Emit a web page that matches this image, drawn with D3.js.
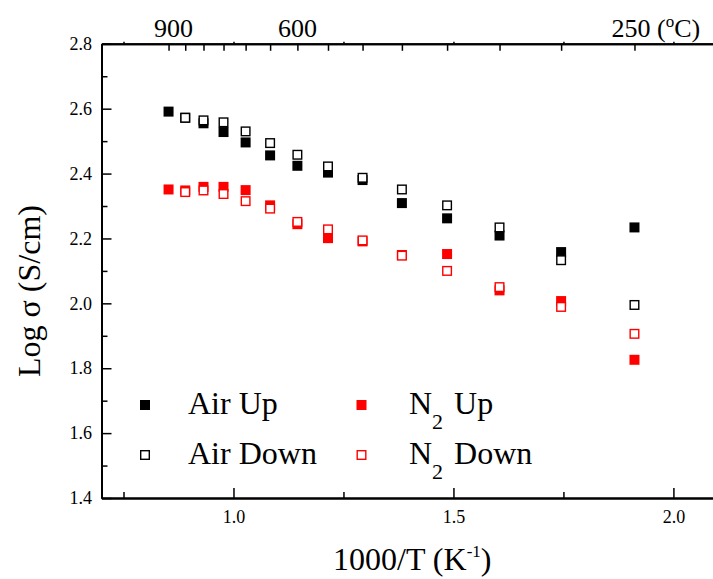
<!DOCTYPE html>
<html>
<head>
<meta charset="utf-8">
<script src="https://cdn.jsdelivr.net/npm/d3@7"></script>
<style>
  html, body { margin: 0; padding: 0; background: #fff; }
  svg { display: block; }
  svg text { font-family: 'Liberation Serif', 'Times New Roman', Times, 'DejaVu Serif', serif !important; }
</style>
</head>
<body>
<svg id="chart" width="713" height="579"></svg>
<script>
// Measurement temperatures (°C), one per point along the heating/cooling runs
const temperaturesC = [900, 850, 800, 750, 700, 650, 600, 550, 500, 450, 400, 350, 300, 250];

// Log conductivity, log σ (S/cm), for each run
const airUp    = [2.591, 2.572, 2.555, 2.528, 2.496, 2.456, 2.424, 2.403, 2.380, 2.309, 2.262, 2.209, 2.158, 2.234];
const airDown  = [null,  2.572, 2.564, 2.558, 2.530, 2.494, 2.458, 2.422, 2.387, 2.351, 2.302, 2.234, 2.133, 1.995];
const n2Up     = [2.351, 2.348, 2.359, 2.359, 2.349, 2.302, 2.244, 2.201, 2.191, 2.149, 2.152, 2.040, 2.007, 1.826];
const n2Down   = [null,  2.343, 2.348, 2.337, 2.315, 2.292, 2.251, 2.228, 2.194, 2.147, 2.100, 2.050, 1.989, 1.906];

// Axis ticks
const yMajorTicks = [1.4, 1.6, 1.8, 2.0, 2.2, 2.4, 2.6, 2.8];
const yMinorTicks = [1.5, 1.7, 1.9, 2.1, 2.3, 2.5, 2.7];
const xMajorTicks = [1.0, 1.5, 2.0];
const xMinorTicks = [0.75, 1.25, 1.75];
const topLabelTemps = [900, 600];
const topUnitTemp = 250;

const FONT = "'Liberation Serif', 'Times New Roman', Times, 'DejaVu Serif', serif";
const toInvT = t => 1000 / (t + 273.15);

const svg = d3.select("#chart");

const x = d3.scaleLinear().domain([0.7, 2.1]).range([101.5, 717.4]);
const y = d3.scaleLinear().domain([1.4, 2.8]).range([498, 43.8]);

const axisStyle = g => {
  g.attr("font-family", FONT);
  g.select(".domain").attr("stroke", "#000").attr("stroke-width", 2);
  g.selectAll(".tick line").attr("stroke", "#000").attr("stroke-width", 1.5);
  g.selectAll("text").attr("fill", "#000").attr("font-family", FONT).attr("font-size", 18);
};

// Left axis: major ticks with labels, minor ticks without
svg.append("g")
  .attr("transform", `translate(${x(0.7)},0)`)
  .call(d3.axisLeft(y).tickValues(yMinorTicks).tickSize(-6).tickSizeOuter(0).tickFormat(""))
  .call(axisStyle);
svg.append("g")
  .attr("transform", `translate(${x(0.7)},0)`)
  .call(d3.axisLeft(y).tickValues(yMajorTicks).tickSize(-10).tickSizeOuter(0)
        .tickPadding(9.5).tickFormat(d3.format(".1f")))
  .call(axisStyle);

// Bottom axis
svg.append("g")
  .attr("transform", `translate(0,${y(1.4)})`)
  .call(d3.axisBottom(x).tickValues(xMinorTicks).tickSize(-6).tickSizeOuter(0).tickFormat(""))
  .call(axisStyle);
svg.append("g")
  .attr("transform", `translate(0,${y(1.4)})`)
  .call(d3.axisBottom(x).tickValues(xMajorTicks).tickSize(-10).tickSizeOuter(0)
        .tickPadding(12).tickFormat(d3.format(".1f")))
  .call(axisStyle);

// Top axis: temperature scale in °C, ticks every 50 °C pointing inward
svg.append("g")
  .attr("transform", `translate(0,${y(2.8)})`)
  .call(d3.axisTop(x).tickValues(xMajorTicks.concat(xMinorTicks)).tickSize(2).tickSizeOuter(0).tickFormat(""))
  .call(axisStyle);
svg.append("g")
  .attr("transform", `translate(0,${y(2.8)})`)
  .call(d3.axisTop(x).tickValues(temperaturesC.map(toInvT)).tickSize(-7).tickSizeOuter(0).tickFormat(""))
  .call(axisStyle);

const topLabels = svg.append("g").attr("font-family", FONT).attr("font-size", 26).attr("fill", "#000");
topLabels.selectAll("text.tl")
  .data(topLabelTemps)
  .join("text")
  .attr("class", "tl")
  .attr("x", d => x(toInvT(d)) + (d === 900 ? 5 : 0))
  .attr("y", 37)
  .attr("text-anchor", "middle")
  .text(d => d);
const unitLabel = topLabels.append("text")
  .attr("x", x(toInvT(topUnitTemp)) - 23)
  .attr("y", 37);
unitLabel.append("tspan").text(`${topUnitTemp} (`);
unitLabel.append("tspan").attr("font-size", 17).attr("dy", -10).text("o");
unitLabel.append("tspan").attr("dy", 10).text("C)");

// Axis titles
svg.append("text")
  .attr("transform", "translate(39.5,291) rotate(-90)")
  .attr("text-anchor", "middle")
  .attr("font-family", FONT)
  .attr("font-size", 32)
  .text("Log σ (S/cm)");

const xTitle = svg.append("text")
  .attr("x", 333)
  .attr("y", 570)
  .attr("font-family", FONT)
  .attr("font-size", 32);
xTitle.append("tspan").text("1000/T (K");
xTitle.append("tspan").attr("font-size", 17).attr("dy", -13).text("-1");
xTitle.append("tspan").attr("dy", 13).text(")");

// Data markers
const S = 10;
const series = [
  { name: "Air Up",   values: airUp,   color: "#000", filled: true },
  { name: "Air Down", values: airDown, color: "#000", filled: false },
  { name: "N2 Up",    values: n2Up,    color: "#ff0000", filled: true },
  { name: "N2 Down",  values: n2Down,  color: "#ff0000", filled: false }
];

const drawMarker = (sel, s) => {
  sel.attr("width", s.filled ? S : S - 1.4)
     .attr("height", s.filled ? S : S - 1.4)
     .attr("fill", s.filled ? s.color : "#fff")
     .attr("stroke", s.filled ? "none" : s.color)
     .attr("stroke-width", s.filled ? 0 : 1.4);
};

series.forEach(s => {
  const pts = temperaturesC.map((t, i) => ({ xv: toInvT(t), yv: s.values[i] }))
                           .filter(d => d.yv != null);
  const off = s.filled ? S / 2 : (S - 1.4) / 2;
  svg.append("g").selectAll("rect")
    .data(pts)
    .join("rect")
    .attr("x", d => x(d.xv) - off)
    .attr("y", d => y(d.yv) - off)
    .call(drawMarker, s);
});

// Legend
const legend = svg.append("g").attr("font-family", FONT).attr("font-size", 32);
const legendItems = [
  { s: series[0], mx: 145,   my: 405, tx: 188, ty: 414, label: ["Air Up"] },
  { s: series[1], mx: 145,   my: 455, tx: 188, ty: 464, label: ["Air Down"] },
  { s: series[2], mx: 361.5, my: 405, tx: 409, ty: 414, label: ["N", "2", " Up"] },
  { s: series[3], mx: 361.5, my: 455, tx: 409, ty: 464, label: ["N", "2", " Down"] }
];
legendItems.forEach(it => {
  const off = it.s.filled ? S / 2 : (S - 1.4) / 2;
  legend.append("rect")
    .attr("x", it.mx - off).attr("y", it.my - off)
    .call(drawMarker, it.s);
  const t = legend.append("text").attr("x", it.tx).attr("y", it.ty);
  if (it.label.length === 1) {
    t.text(it.label[0]);
  } else {
    t.append("tspan").text(it.label[0]);
    t.append("tspan").attr("font-size", 22).attr("dy", 15).text(it.label[1]);
    t.append("tspan").attr("dy", -15).attr("dx", 3).text(it.label[2]);
  }
});
</script>
</body>
</html>
